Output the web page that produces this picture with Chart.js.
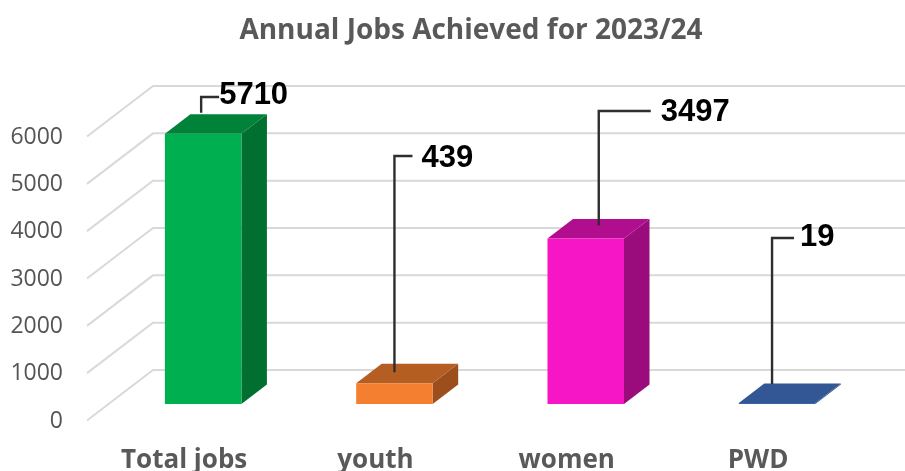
<!DOCTYPE html>
<html>
<head>
<meta charset="utf-8">
<title>Annual Jobs Achieved for 2023/24</title>
<script src="https://cdn.jsdelivr.net/npm/chart.js@4"></script>
<style>
  html, body { margin: 0; padding: 0; background: #fff; }
  canvas { display: block; }
</style>
</head>
<body>
<canvas id="jobsChart" width="905" height="471"></canvas>
<script>
const categories = ["Total jobs", "youth", "women", "PWD"];
const jobValues = [5710, 439, 3497, 19];
const yTicks = [0, 1000, 2000, 3000, 4000, 5000, 6000];

const frontColors = ["#00B050", "#F47F30", "#F616C6", "#3A62A8"];
const topColors = ["#008238", "#B55E23", "#B00E8F", "#335795"];
const sideColors = ["#006F2F", "#9C4F1D", "#9A0C7C", "#2A4A80"];

// Bar extrusion, and how far the floor reaches either side of the bar plane
const DEPTH_X = 25.5;
const DEPTH_Y = 19.5;
const WALL_X = 153;
const WALL_RISE = 34;
const FLOOR_X = 87;
const FLOOR_DROP = 16.5;

// Leader lines: start relative to the bar's top edge, elbow height, run to the label
const leaders = [
  { shift: -2, lift: 21, elbowY: 97, run: 18, gap: 0, labelY: 95 },
  { shift: 0, lift: 11, elbowY: 156, run: 18, gap: 9, labelY: 158 },
  { shift: 13, lift: 13, elbowY: 111, run: 52, gap: 10, labelY: 112 },
  { shift: -5, lift: 19, elbowY: 238, run: 22, gap: 6, labelY: 237 },
];

function face(ctx, color, pts) {
  ctx.fillStyle = color;
  ctx.beginPath();
  pts.forEach((p, i) => (i ? ctx.lineTo(p[0], p[1]) : ctx.moveTo(p[0], p[1])));
  ctx.closePath();
  ctx.fill();
}

const perspective = {
  id: "perspective",

  // the tick labels sit out past the axis box, so widen the area they may paint in
  afterLayout(chart) {
    chart.scales.y.left = 0;
  },

  // wall and floor grid, then the side and top of each bar
  beforeDatasetsDraw(chart) {
    const { ctx, width } = chart;
    const y = chart.scales.y;

    ctx.save();
    ctx.strokeStyle = "#D9D9D9";
    ctx.lineWidth = 2;
    yTicks.forEach((v) => {
      const py = y.getPixelForValue(v);
      ctx.beginPath();
      ctx.moveTo(FLOOR_X, py + FLOOR_DROP);
      ctx.lineTo(WALL_X, py - WALL_RISE);
      ctx.lineTo(width, py - WALL_RISE);
      ctx.stroke();
    });

    chart.getDatasetMeta(0).data.forEach((bar, i) => {
      const left = bar.x - bar.width / 2;
      const right = bar.x + bar.width / 2;
      const top = bar.y;
      const base = bar.base;
      face(ctx, sideColors[i], [
        [right, top],
        [right + DEPTH_X, top - DEPTH_Y],
        [right + DEPTH_X, base - DEPTH_Y],
        [right, base],
      ]);
      face(ctx, topColors[i], [
        [left, top],
        [left + DEPTH_X, top - DEPTH_Y],
        [right + DEPTH_X, top - DEPTH_Y],
        [right, top],
      ]);
    });
    ctx.restore();
  },

  // value callouts
  afterDatasetsDraw(chart) {
    const { ctx } = chart;
    ctx.save();
    ctx.strokeStyle = "#2E2E2E";
    ctx.lineWidth = 2.4;
    ctx.fillStyle = "#000000";
    ctx.font = "bold 31px 'Liberation Sans'";
    ctx.textAlign = "left";
    ctx.textBaseline = "middle";
    chart.getDatasetMeta(0).data.forEach((bar, i) => {
      const l = leaders[i];
      const sx = bar.x + l.shift;
      ctx.beginPath();
      ctx.moveTo(sx, bar.y - l.lift);
      ctx.lineTo(sx, l.elbowY);
      ctx.lineTo(sx + l.run, l.elbowY);
      ctx.stroke();
      ctx.fillText(String(jobValues[i]), sx + l.run + l.gap, l.labelY);
    });
    ctx.restore();
  },
};

new Chart(document.getElementById("jobsChart").getContext("2d"), {
  type: "bar",
  data: {
    labels: categories,
    datasets: [
      {
        data: jobValues,
        backgroundColor: frontColors,
        borderWidth: 0,
        barPercentage: 0.4,
        categoryPercentage: 1,
      },
    ],
  },
  plugins: [perspective],
  options: {
    responsive: false,
    animation: false,
    layout: { padding: { left: 69.3, right: 32.3, top: 0, bottom: 0 } },
    plugins: {
      legend: { display: false },
      tooltip: { enabled: false },
      title: {
        display: true,
        text: "Annual Jobs Achieved for 2023/24",
        color: "#595959",
        font: { family: "'Open Sans'", size: 28, weight: "bold", lineHeight: 1.2 },
        padding: { top: 14, bottom: 72.4 },
      },
    },
    scales: {
      x: {
        grid: { display: false },
        border: { display: false },
        ticks: {
          color: "#595959",
          font: { family: "'Open Sans'", size: 26, weight: "bold" },
          padding: 33,
          labelOffset: -19,
          maxRotation: 0,
          autoSkip: false,
        },
        afterFit(scale) {
          scale.height = 67;
        },
      },
      y: {
        min: 0,
        max: 6000,
        grid: { display: false },
        border: { display: false },
        afterBuildTicks(scale) {
          scale.ticks = yTicks.map((value) => ({ value }));
        },
        ticks: {
          color: "#555555",
          font: { family: "'Open Sans'", size: 23 },
          padding: 36.5,
          labelOffset: 17,
          callback: (v) => String(v),
        },
        afterFit(scale) {
          scale.width = 38.2;
        },
      },
    },
  },
});
</script>
</body>
</html>
